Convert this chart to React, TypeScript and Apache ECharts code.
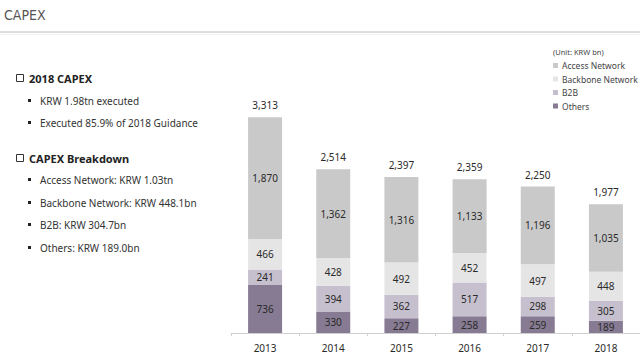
import React, { useEffect, useRef } from "react";
import * as echarts from "echarts";

const years = ["2013", "2014", "2015", "2016", "2017", "2018"];
const others = [736, 330, 227, 258, 259, 189];
const b2b = [241, 394, 362, 517, 298, 305];
const backbone = [466, 428, 492, 452, 497, 448];
const access = [1870, 1362, 1316, 1133, 1196, 1035];
const totals = [3313, 2514, 2397, 2359, 2250, 1977];

const seriesNames = ["Access Network", "Backbone Network", "B2B", "Others"];
const colors = {
  access: "#c9c9c9",
  backbone: "#e5e5e5",
  b2b: "#c6bfcd",
  others: "#877b93",
};

const leftHeaders = ["2018 CAPEX", "CAPEX Breakdown"];
const leftItems1 = ["KRW 1.98tn executed", "Executed 85.9% of 2018 Guidance"];
const leftItems2 = [
  "Access Network: KRW 1.03tn",
  "Backbone Network: KRW 448.1bn",
  "B2B: KRW 304.7bn",
  "Others: KRW 189.0bn",
];

const FONT = "'Noto Sans', 'Open Sans', sans-serif";

export default function App() {
  const ref = useRef<HTMLDivElement>(null);
  useEffect(() => {
    if (!ref.current) return;
    const chart = echarts.init(ref.current, null, { renderer: "svg" });
    const fmt = (v: number) => v.toLocaleString("en-US");
    const inLabel = {
      show: true,
      position: "inside",
      color: "#2a2a2a",
      fontSize: 10,
      fontFamily: FONT,
      formatter: (p: any) => fmt(p.value),
    };
    const mk = (name: string, data: number[], color: string) => ({
      name,
      type: "bar",
      stack: "capex",
      data,
      barWidth: 34,
      itemStyle: { color },
      label: inLabel,
    });

    const graphics: any[] = [
      {
        type: "text",
        left: 4,
        top: 8,
        style: {
          text: "CAPEX",
          fontSize: 14,
          fill: "#555",
          fontFamily: "'Liberation Sans Narrow', 'DejaVu Sans Condensed', sans-serif",
        },
      },
      { type: "rect", shape: { x: 0, y: 31, width: 640, height: 2 }, style: { fill: "#dedede" } },
      { type: "rect", shape: { x: 0, y: 34, width: 640, height: 1 }, style: { fill: "#f3f3f3" } },
      {
        type: "text",
        left: 553,
        top: 48,
        style: { text: "(Unit: KRW bn)", fontSize: 7.5, fill: "#444", fontFamily: FONT },
      },
    ];

    const addHeader = (text: string, y: number) => {
      graphics.push({
        type: "rect",
        shape: { x: 16.5, y: y - 3.5, width: 7, height: 7 },
        style: { fill: "none", stroke: "#333", lineWidth: 1 },
      });
      graphics.push({
        type: "text",
        x: 29,
        y,
        style: {
          text,
          fontSize: 11,
          fontWeight: "bold",
          fill: "#222",
          fontFamily: FONT,
          verticalAlign: "middle",
        },
      });
    };
    const addItem = (text: string, y: number) => {
      graphics.push({
        type: "rect",
        shape: { x: 28, y: y - 2, width: 3, height: 3 },
        style: { fill: "#222" },
      });
      graphics.push({
        type: "text",
        x: 40,
        y,
        style: { text, fontSize: 10, fill: "#333", fontFamily: FONT, verticalAlign: "middle" },
      });
    };
    addHeader(leftHeaders[0], 78);
    [101, 123].forEach((y, i) => addItem(leftItems1[i], y));
    addHeader(leftHeaders[1], 158);
    [180, 203, 225, 248].forEach((y, i) => addItem(leftItems2[i], y));

    chart.setOption({
      animation: false,
      grid: { left: 231, right: -5, top: 40, bottom: 22 },
      legend: {
        data: seriesNames,
        orient: "vertical",
        left: 553,
        top: 61,
        padding: [0, 0, 0, 0],
        icon: "rect",
        itemWidth: 5,
        itemHeight: 5,
        itemGap: 4.5,
        textStyle: { fontSize: 8.5, color: "#444", fontFamily: FONT, padding: [0, 0, 0, -1] },
      },
      xAxis: {
        type: "category",
        data: years,
        axisLine: { lineStyle: { color: "#d0d0d0", width: 1 } },
        axisTick: { show: true, inside: false, length: 3, lineStyle: { color: "#d0d0d0" } },
        axisLabel: { color: "#2a2a2a", fontSize: 10, fontFamily: FONT, margin: 10 },
      },
      yAxis: { type: "value", min: 0, max: 4500, show: false, splitLine: { show: false } },
      graphic: graphics,
      series: [
        mk("Others", others, colors.others),
        mk("B2B", b2b, colors.b2b),
        mk("Backbone Network", backbone, colors.backbone),
        mk("Access Network", access, colors.access),
        {
          name: "Total",
          type: "bar",
          stack: "capex",
          data: totals.map(() => 0),
          barWidth: 34,
          itemStyle: { color: "transparent" },
          label: {
            show: true,
            position: "top",
            distance: 7,
            color: "#2a2a2a",
            fontSize: 10,
            fontFamily: FONT,
            formatter: (p: any) => fmt(totals[p.dataIndex]),
          },
        },
      ],
    });
    return () => chart.dispose();
  }, []);
  return (
    <div
      ref={ref}
      style={{ position: "fixed", left: 0, top: 0, width: 640, height: 355, background: "#fff" }}
    />
  );
}
